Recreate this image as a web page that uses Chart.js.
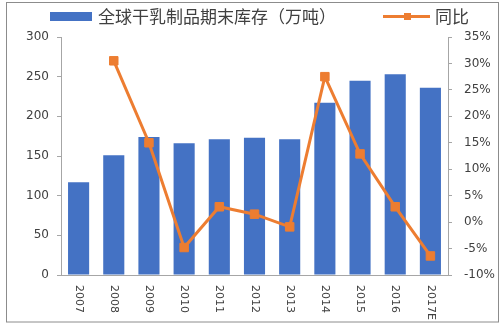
<!DOCTYPE html>
<html>
<head>
<meta charset="utf-8">
<script src="https://cdn.jsdelivr.net/npm/chart.js@4"></script>
<style>
  html, body { margin: 0; padding: 0; background: #fff; }
  #wrap { width: 503px; height: 325px; position: relative; }
</style>
</head>
<body>
<div id="wrap"><canvas id="stockChart"></canvas></div>
<script>
// data
const years = ['2007', '2008', '2009', '2010', '2011', '2012', '2013', '2014', '2015', '2016', '2017E'];
const stock = [117, 151, 174, 166, 171, 173, 171, 217, 245, 253, 236]; // 万吨
const yoy = [null, 30.5, 15.0, -4.8, 2.9, 1.5, -0.9, 27.5, 12.9, 2.9, -6.4]; // %
const stockLabel = '全球干乳制品期末库存（万吨）';
const yoyLabel = '同比';

const blue = '#4472C4';
const orange = '#ED7D31';
const axisGrey = '#a6a6a6';
const textGrey = '#404040';

// frame, legend and rotated year labels
const extras = {
    id: 'extras',
    beforeDraw(chart) {
        const ctx = chart.ctx;
        ctx.save();
        ctx.fillStyle = '#fff';
        ctx.fillRect(0, 0, chart.width, chart.height);
        ctx.strokeStyle = '#8c8c8c';
        ctx.lineWidth = 1;
        ctx.strokeRect(6.5, 2.5, 492, 319.5);
        ctx.restore();
    },
    afterDraw(chart) {
        const ctx = chart.ctx;
        ctx.save();
        // legend
        ctx.fillStyle = blue;
        ctx.fillRect(50, 12, 42, 9);
        ctx.font = '17px "Noto Sans CJK SC"';
        ctx.fillStyle = textGrey;
        ctx.textBaseline = 'middle';
        ctx.fillText(stockLabel, 98, 16.5);
        ctx.strokeStyle = orange;
        ctx.lineWidth = 3;
        ctx.beginPath();
        ctx.moveTo(383, 16.5);
        ctx.lineTo(430, 16.5);
        ctx.stroke();
        ctx.fillStyle = orange;
        ctx.fillRect(404, 13, 7, 7);
        ctx.fillStyle = textGrey;
        ctx.fillText(yoyLabel, 435, 16.5);

        // x labels, rotated clockwise
        const x = chart.scales.x;
        ctx.font = '11px "DejaVu Sans"';
        ctx.textAlign = 'left';
        ctx.textBaseline = 'middle';
        years.forEach((y, i) => {
            const px = x.getPixelForValue(i);
            ctx.save();
            ctx.translate(px, chart.chartArea.bottom + 10);
            ctx.rotate(Math.PI / 2);
            ctx.fillText(y, 0, 0);
            ctx.restore();
        });
        ctx.restore();
    }
};

const ctx = document.getElementById('stockChart').getContext('2d');
new Chart(ctx, {
    data: {
        labels: years,
        datasets: [
            {
                type: 'line',
                label: yoyLabel,
                data: yoy,
                yAxisID: 'y1',
                borderColor: orange,
                backgroundColor: orange,
                borderWidth: 3,
                pointStyle: 'rect',
                pointRadius: 6,
                pointBorderWidth: 1,
                pointBackgroundColor: orange,
                pointBorderColor: orange,
                tension: 0,
                order: 0
            },
            {
                type: 'bar',
                label: stockLabel,
                data: stock,
                yAxisID: 'y',
                backgroundColor: blue,
                barPercentage: 0.6,
                categoryPercentage: 1,
                order: 1
            }
        ]
    },
    options: {
        responsive: true,
        maintainAspectRatio: false,
        animation: false,
        layout: { padding: { left: 0, right: 0, top: 37, bottom: 0 } },
        plugins: {
            legend: { display: false },
            tooltip: { enabled: false }
        },
        scales: {
            x: {
                grid: { display: false },
                border: { color: axisGrey },
                ticks: { display: false },
                afterFit(s) { s.height = 50; }
            },
            y: {
                position: 'left',
                min: 0,
                max: 300,
                grid: { drawOnChartArea: false, tickLength: 4, color: axisGrey },
                border: { color: axisGrey },
                ticks: {
                    stepSize: 50,
                    padding: 8,
                    color: textGrey,
                    font: { family: 'DejaVu Sans', size: 12 }
                },
                afterFit(s) { s.width = 61; }
            },
            y1: {
                position: 'right',
                min: -10,
                max: 35,
                grid: { drawOnChartArea: false, tickLength: 4, color: axisGrey },
                border: { color: axisGrey },
                ticks: {
                    stepSize: 5,
                    padding: 12,
                    color: textGrey,
                    font: { family: 'DejaVu Sans', size: 12 },
                    callback: v => v + '%'
                },
                afterFit(s) { s.width = 55; }
            }
        }
    },
    plugins: [extras]
});
</script>
</body>
</html>
